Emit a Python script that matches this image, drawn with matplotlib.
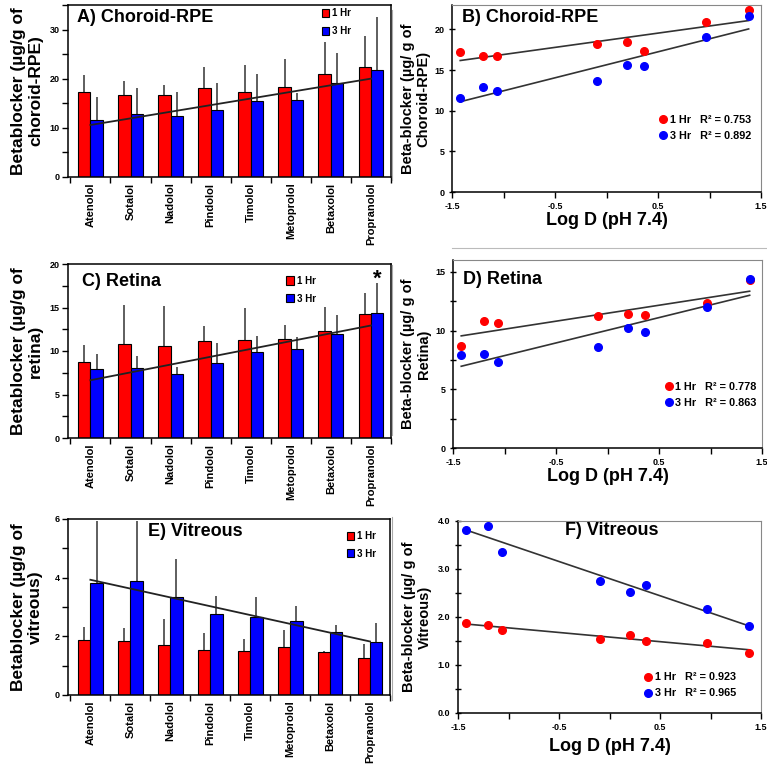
import numpy as np
import matplotlib
matplotlib.use('Agg')
import matplotlib.pyplot as plt
from matplotlib.lines import Line2D
from matplotlib.ticker import MultipleLocator, FormatStrFormatter

plt.rcParams['font.family'] = ['Liberation Sans', 'DejaVu Sans']
plt.rcParams['font.weight'] = 'bold'
plt.rcParams['axes.labelweight'] = 'bold'

# drugs and their log D at pH 7.4
drugs = ['Atenolol', 'Sotalol', 'Nadolol', 'Pindolol', 'Timolol', 'Metoprolol', 'Betaxolol', 'Propranolol']
logd = [-1.42, -1.20, -1.06, -0.09, 0.36, 0.20, 0.97, 1.38]

# choroid-RPE (ug/g), mean and SD at 1 h and 3 h
chor_1h = [17.2, 16.7, 16.7, 18.2, 17.3, 18.4, 20.9, 22.4]
chor_1h_sd = [3.6, 2.8, 2.0, 4.2, 5.4, 5.6, 6.5, 6.2]
chor_3h = [11.6, 12.9, 12.4, 13.6, 15.5, 15.6, 19.1, 21.7]
chor_3h_sd = [4.7, 5.2, 4.8, 5.6, 5.5, 1.4, 6.1, 10.8]

# retina
ret_1h = [8.7, 10.8, 10.6, 11.2, 11.3, 11.4, 12.3, 14.3]
ret_1h_sd = [2.0, 4.5, 4.6, 1.7, 3.7, 1.6, 2.8, 2.4]
ret_3h = [7.9, 8.0, 7.3, 8.6, 9.9, 10.2, 12.0, 14.4]
ret_3h_sd = [1.7, 1.4, 0.9, 2.3, 1.8, 1.4, 2.1, 3.4]

# vitreous
vit_1h = [1.88, 1.83, 1.72, 1.55, 1.50, 1.63, 1.45, 1.26]
vit_1h_sd = [0.43, 0.45, 0.86, 0.58, 0.40, 0.59, 0.05, 0.48]
vit_3h = [3.82, 3.90, 3.35, 2.76, 2.67, 2.53, 2.16, 1.82]
vit_3h_sd = [2.10, 2.02, 1.30, 0.63, 0.67, 0.49, 0.23, 0.65]

r2_chor = ['0.753', '0.892']
r2_ret = ['0.778', '0.863']
r2_vit = ['0.923', '0.965']

RED = '#ff0000'
BLUE = '#0000ff'
W, H = 767, 771

fig = plt.figure(figsize=(W / 100, H / 100), dpi=100)


def make_ax(l, r, t, b):
    return fig.add_axes([l / W, 1 - b / H, (r - l) / W, (b - t) / H])


def bar_panel(ax, m1, s1, m3, s3, ytop, major, minor, title, txy, ylab, leg_xy):
    x = np.arange(len(drugs))
    w = 0.31
    n = len(drugs)
    ax.errorbar(x - w / 2, m1, yerr=[np.zeros(n), s1], fmt='none', ecolor='#333333', elinewidth=1.1, capsize=0, zorder=1)
    ax.errorbar(x + w / 2, m3, yerr=[np.zeros(n), s3], fmt='none', ecolor='#333333', elinewidth=1.1, capsize=0, zorder=1)
    ax.bar(x - w / 2, m1, w, color=RED, edgecolor='black', linewidth=0.8, label='1 Hr', zorder=2)
    ax.bar(x + w / 2, m3, w, color=BLUE, edgecolor='black', linewidth=0.8, label='3 Hr', zorder=2)
    # linear trend of the 3 h values
    c = np.polyfit(x, m3, 1)
    ax.plot([x[0], x[-1]], np.polyval(c, [x[0], x[-1]]), color='#222222', lw=1.3, zorder=3)
    ax.set_xlim(-0.56, 7.5)
    ax.set_ylim(0, ytop)
    ax.set_xticks(x, drugs, rotation=90, fontsize=8, fontweight='bold')
    ax.set_xticks(np.arange(-0.5, 8, 1), minor=True)
    ax.tick_params(axis='x', which='major', length=0, pad=4)
    ax.tick_params(axis='x', which='minor', length=4, width=1)
    ax.yaxis.set_major_locator(MultipleLocator(major))
    ax.yaxis.set_minor_locator(MultipleLocator(minor))
    ax.tick_params(axis='y', which='both', length=4, width=1, labelsize=6.5, pad=2)
    for s in ax.spines.values():
        s.set_linewidth(1.1)
    ax.text(txy[0], txy[1], title, transform=ax.transAxes, fontsize=13, fontweight='bold', va='center')
    ax.text(-0.127, 0.5, ylab, transform=ax.transAxes, rotation=90, ha='center', va='center',
            fontsize=12.5, fontweight='bold', multialignment='center', linespacing=1.15)
    ax.legend(loc='upper left', bbox_to_anchor=leg_xy, frameon=False, fontsize=7,
              handlelength=0.8, handleheight=0.9, handletextpad=0.3, labelspacing=0.8, borderpad=0)


def scatter_panel(ax, m1, m3, r2, ytop, major, minor, fmt, title, txy, tha, ylab, ylx, xly, leg_xy):
    d = np.array(logd)
    ax.plot(d, m1, 'o', color=RED, ms=5.5, label='1 Hr   R² = ' + r2[0], zorder=3)
    ax.plot(d, m3, 'o', color=BLUE, ms=5.5, label='3 Hr   R² = ' + r2[1], zorder=3)
    xe = [d.min(), d.max()]
    for m in (m1, m3):
        c = np.polyfit(d, m, 1)
        ax.plot(xe, np.polyval(c, xe), color='#333333', lw=1.2, zorder=2)
    ax.set_xlim(-1.5, 1.5)
    ax.set_ylim(0, ytop)
    ax.set_xticks([-1.5, -0.5, 0.5, 1.5], ['-1.5', '-0.5', '0.5', '1.5'])
    ax.set_xticks([-1, 0, 1], minor=True)
    ax.tick_params(axis='x', which='both', length=4, width=1, labelsize=6.5, pad=3)
    ax.yaxis.set_major_locator(MultipleLocator(major))
    if minor:
        ax.yaxis.set_minor_locator(MultipleLocator(minor))
    if fmt:
        ax.yaxis.set_major_formatter(FormatStrFormatter(fmt))
    ax.tick_params(axis='y', which='both', length=5, width=1, direction='inout', labelsize=6.5, pad=3)
    ax.spines['left'].set_linewidth(1.1)
    ax.spines['bottom'].set_linewidth(1.1)
    ax.spines['top'].set_color('#888888')
    ax.spines['right'].set_color('#888888')
    ax.text(txy[0], txy[1], title, transform=ax.transAxes, fontsize=13, fontweight='bold', va='center', ha=tha)
    ax.text(ylx, 0.5, ylab, transform=ax.transAxes, rotation=90, ha='center', va='center',
            fontsize=10.5, fontweight='bold', multialignment='center', linespacing=1.15)
    ax.text(0.5, xly, 'Log D (pH 7.4)', transform=ax.transAxes, ha='center', va='center',
            fontsize=13, fontweight='bold')
    ax.legend(loc='upper left', bbox_to_anchor=leg_xy, frameon=False, fontsize=7.8,
              handlelength=0.6, handletextpad=0.3, labelspacing=0.55, borderpad=0)


axA = make_ax(68, 391, 5, 177)
bar_panel(axA, chor_1h, chor_1h_sd, chor_3h, chor_3h_sd, 35, 10, 5, 'A) Choroid-RPE', (0.028, 0.93),
          'Betablocker (µg/g of\nchoroid-RPE)', (0.77, 1.01))

axB = make_ax(452, 761, 5, 192)
scatter_panel(axB, chor_1h, chor_3h, r2_chor, 23, 5, None, None, 'B) Choroid-RPE', (0.032, 0.935), 'left',
              'Beta-blocker (µg/ g of\nChoroid-RPE)', -0.117, -0.155, (0.655, 0.44))

axC = make_ax(68, 391, 264, 438)
bar_panel(axC, ret_1h, ret_1h_sd, ret_3h, ret_3h_sd, 20, 5, 2.5, 'C) Retina', (0.043, 0.90),
          'Betablocker (µg/g of\nretina)', (0.66, 0.96))
axC.text(7 + 0.155, 18.3, '*', ha='center', va='center', fontsize=16, fontweight='bold')

axD = make_ax(453, 762, 260, 448)
scatter_panel(axD, ret_1h, ret_3h, r2_ret, 16, 5, 2.5, None, 'D) Retina', (0.032, 0.894), 'left',
              'Beta-blocker (µg/ g of\nRetina)', -0.12, -0.15, (0.67, 0.38))

axE = make_ax(68, 390, 519, 695)
bar_panel(axE, vit_1h, vit_1h_sd, vit_3h, vit_3h_sd, 6, 2, 1, 'E) Vitreous', (0.248, 0.93),
          'Betablocker (µg/g of\nvitreous)', (0.85, 0.96))

axF = make_ax(458, 761, 521, 713)
scatter_panel(axF, vit_1h, vit_3h, r2_vit, 4, 1, 0.5, '%.1f', 'F) Vitreous', (0.508, 0.948), 'center',
              'Beta-blocker (µg/ g of\nVitreous)', -0.135, -0.177, (0.6, 0.24))

# faint frame edges of the pasted right-hand panels
for y0, y1 in [(10, 180), (265, 435), (517, 700)]:
    fig.add_artist(Line2D([392 / W, 392 / W], [1 - y0 / H, 1 - y1 / H], color='#aaaaaa', lw=0.8))
fig.add_artist(Line2D([452 / W, 1.0], [1 - 248 / H, 1 - 248 / H], color='#bbbbbb', lw=0.8))

fig.savefig('out.png', dpi=100)
